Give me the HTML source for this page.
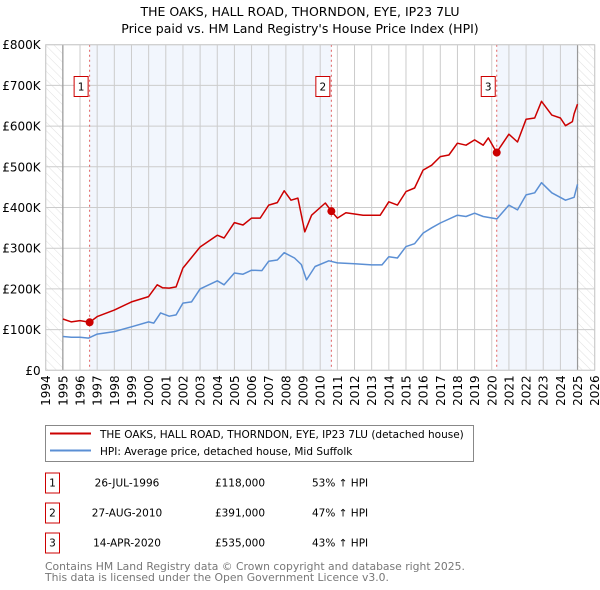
<!DOCTYPE html>
<html><head><meta charset="utf-8"><style>
body{margin:0;background:#fff;font-family:"DejaVu Sans","Liberation Sans",sans-serif;}
svg{display:block}
</style></head><body>
<svg id="chart" width="600" height="590" xmlns="http://www.w3.org/2000/svg" font-family="DejaVu Sans, Liberation Sans, sans-serif">
<defs><pattern id="hatch" width="6" height="6" patternUnits="userSpaceOnUse" patternTransform="rotate(-45)"><line x1="0" y1="0" x2="0" y2="6" stroke="#d8d8d8" stroke-width="0.8"/></pattern></defs>
<text x="300" y="16" text-anchor="middle" font-size="12.5">THE OAKS, HALL ROAD, THORNDON, EYE, IP23 7LU</text>
<text x="300" y="33" text-anchor="middle" font-size="12.5">Price paid vs. HM Land Registry's House Price Index (HPI)</text>
<g id="plot"></g>
<g id="legend">
<rect x="45.5" y="425.5" width="428" height="36" fill="#fff" stroke="#888"/>
<line x1="50" y1="433.5" x2="91" y2="433.5" stroke="#cc0000" stroke-width="2"/>
<text x="100" y="438" font-size="10.5">THE OAKS, HALL ROAD, THORNDON, EYE, IP23 7LU (detached house)</text>
<line x1="50" y1="450.5" x2="91" y2="450.5" stroke="#5b8fd4" stroke-width="2"/>
<text x="100" y="455" font-size="10.5">HPI: Average price, detached house, Mid Suffolk</text>
</g>
<g id="table" font-size="10.5"></g>
<text x="45" y="570" font-size="10.8" fill="#777">Contains HM Land Registry data © Crown copyright and database right 2025.</text>
<text x="45" y="581" font-size="10.8" fill="#777">This data is licensed under the Open Government Licence v3.0.</text>
</svg>
<script>
const NS="http://www.w3.org/2000/svg";
const yTicks=[0,100,200,300,400,500,600,700,800];
const yTickLabels=["£0","£100K","£200K","£300K","£400K","£500K","£600K","£700K","£800K"];
const years=[1994,1995,1996,1997,1998,1999,2000,2001,2002,2003,2004,2005,2006,2007,2008,2009,2010,2011,2012,2013,2014,2015,2016,2017,2018,2019,2020,2021,2022,2023,2024,2025,2026];
const hpiT=[1995,1995.5,1996,1996.5,1997,1998,1999,2000,2000.3,2000.7,2001.2,2001.6,2002,2002.5,2003,2004,2004.4,2005,2005.5,2006,2006.6,2007,2007.5,2007.9,2008.5,2008.9,2009.2,2009.7,2010.5,2011,2012,2013,2013.6,2014,2014.5,2015,2015.5,2016,2016.5,2017,2018,2018.5,2019,2019.5,2020.3,2021,2021.5,2022,2022.5,2022.9,2023.5,2024.3,2024.8,2025];
const hpiV=[83,81,81,79,89,95,107,119,116,141,133,136,165,168,200,220,210,239,236,246,245,268,271,289,276,260,222,255,269,264,262,259,259,279,276,304,311,337,350,362,381,378,386,378,372,406,394,431,436,461,436,418,425,457];
const ppT=[1995,1995.5,1996,1996.56,1997,1998,1999,2000,2000.5,2000.8,2001.2,2001.6,2002,2003,2004,2004.4,2005,2005.5,2006,2006.5,2007,2007.5,2007.9,2008.3,2008.7,2009.1,2009.5,2010.3,2010.65,2011,2011.5,2012.5,2013.5,2014,2014.5,2015,2015.5,2016,2016.5,2017,2017.5,2018,2018.5,2019,2019.5,2019.8,2020.29,2020.5,2021,2021.5,2022,2022.5,2022.9,2023.5,2024,2024.3,2024.7,2024.8,2025];
const ppV=[126,119,122,118,132,148,168,181,210,203,202,205,251,303,332,325,363,357,374,374,406,412,441,418,423,340,381,411,391,374,387,381,381,414,406,439,448,492,504,525,529,558,553,566,553,571,535,549,580,561,617,620,661,627,620,601,611,630,654];
const sales=[{t:1996.56,v:118,label:"1"},{t:2010.65,v:391,label:"2"},{t:2020.29,v:535,label:"3"}];
const saleDates=["26-JUL-1996","27-AUG-2010","14-APR-2020"];
const salePrices=["£118,000","£391,000","£535,000"];
const saleDiffs=["53% ↑ HPI","47% ↑ HPI","43% ↑ HPI"];

const X0=45.7,X1=594.7,Y0=370.3,Y1=44.7;
const xs=t=>X0+(t-1994)/(2026-1994)*(X1-X0);
const ys=v=>Y0-v/800*(Y0-Y1);
const plot=document.getElementById('plot');
function mk(tag,attrs,parent){const e=document.createElementNS(NS,tag);for(const k in attrs)e.setAttribute(k,attrs[k]);(parent||plot).appendChild(e);return e;}

let r=mk('rect',{x:X0,y:Y1,width:X1-X0,height:Y0-Y1,fill:'#fff'});


const bands=[[sales[0].t,sales[1].t],[sales[2].t,2025]];
bands.forEach(b=>{const e=mk('rect',{x:xs(b[0]),y:Y1,width:xs(b[1])-xs(b[0]),height:Y0-Y1,fill:'#f2f6fd'});

});
[[1994,1995],[2025,2026]].forEach(b=>{const e=mk('rect',{x:xs(b[0]),y:Y1,width:xs(b[1])-xs(b[0]),height:Y0-Y1,fill:'url(#hatch)'});

});
years.forEach(y=>{const e=mk('line',{x1:xs(y),x2:xs(y),y1:Y1,y2:Y0,stroke:'#ccc','stroke-width':1});


const t=mk('text',{x:0,y:0,'font-size':12,'text-anchor':'end',transform:`translate(${xs(y)+4.5},${Y0+5}) rotate(-90)`});t.textContent=y;

});
yTicks.forEach((v,i)=>{const e=mk('line',{x1:X0,x2:X1,y1:ys(v),y2:ys(v),stroke:'#ccc','stroke-width':1});


const t=mk('text',{x:X0-5,y:ys(v)+4.5,'font-size':12,'text-anchor':'end'});t.textContent=yTickLabels[i];

});
[1995,2025].forEach(y=>{const e=mk('line',{x1:xs(y),x2:xs(y),y1:Y1,y2:Y0,stroke:'#999','stroke-width':1.2});

});
sales.forEach(s=>{const e=mk('line',{x1:xs(s.t),x2:xs(s.t),y1:Y1,y2:Y0,stroke:'#e06060','stroke-width':1,'stroke-dasharray':'2,3'});

});
function path(T,V){return T.map((t,i)=>(i?'L':'M')+xs(t).toFixed(1)+','+ys(V[i]).toFixed(1)).join('');}
let p=mk('path',{d:path(hpiT,hpiV),fill:'none',stroke:'#5b8fd4','stroke-width':1.5,'stroke-linejoin':'round'});


p=mk('path',{d:path(ppT,ppV),fill:'none',stroke:'#cc0000','stroke-width':1.5,'stroke-linejoin':'round'});


sales.forEach(s=>{const c=mk('circle',{cx:xs(s.t),cy:ys(s.v),r:4,fill:'#cc0000'});


const g=mk('g',{});


mk('rect',{x:xs(s.t)-15.5,y:76.5,width:14,height:20,fill:'#fff',stroke:'#cc0000'},g);
const t=mk('text',{x:xs(s.t)-8.5,y:90.5,'font-size':10.5,'text-anchor':'middle'},g);t.textContent=s.label;});
mk('rect',{x:X0,y:Y1,width:X1-X0,height:Y0-Y1,fill:'none',stroke:'#ccc'});
const tb=document.getElementById('table');
sales.forEach((s,i)=>{const y=483+i*30;
const g=mk('g',{},tb);


mk('rect',{x:45.5,y:y-10,width:14,height:20,fill:'#fff',stroke:'#cc0000'},g);
let t=mk('text',{x:52.5,y:y+3.5,'text-anchor':'middle'},g);t.textContent=s.label;
t=mk('text',{x:127,y:y+3.5,'text-anchor':'middle'},g);t.textContent=saleDates[i];
t=mk('text',{x:240,y:y+3.5,'text-anchor':'middle'},g);t.textContent=salePrices[i];
t=mk('text',{x:312,y:y+3.5},g);t.textContent=saleDiffs[i];});
</script>
</body></html>
